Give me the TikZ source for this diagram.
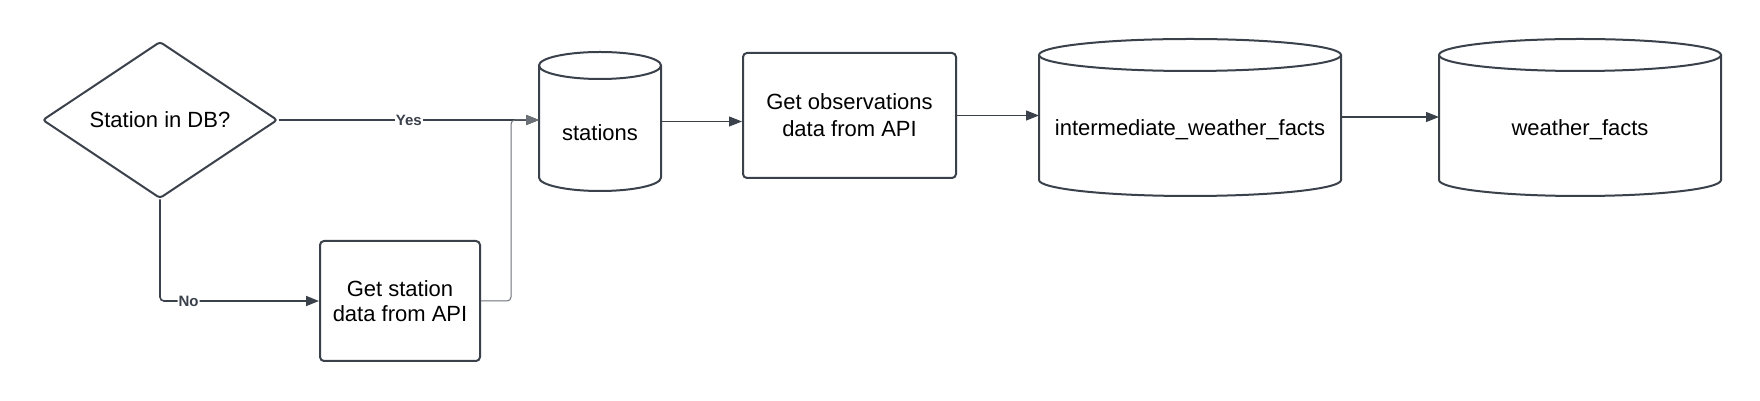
\documentclass[tikz,border=0pt]{standalone}
\usepackage{fontspec}
\setmainfont{Liberation Sans}
\usetikzlibrary{shapes.geometric,arrows.meta,calc}
\definecolor{ln}{HTML}{3A414A}
\newcommand\dbcyl[5]{% cx, top, bottom, rx, ry
  \draw[cylline] (#1,#2-#5) ellipse[x radius=#4, y radius=#5];
  \draw[cylline] (#1-#4,#2-#5) -- (#1-#4,#3+#5)
     arc[start angle=180,end angle=360,x radius=#4,y radius=#5] -- (#1+#4,#2-#5);
}
\begin{document}
\begin{tikzpicture}[x=1pt,y=1pt,
  box/.style={draw=ln, line width=2pt, rounded corners=4pt, fill=white, align=center,
    font=\fontsize{22}{27}\selectfont, inner sep=0},
  dec/.style={diamond, draw=ln, line width=2pt, rounded corners=3pt, inner sep=0,
    font=\fontsize{22}{27}\selectfont, minimum width=235pt, minimum height=155pt},
  cylline/.style={draw=ln, line width=2pt},
  anchorbox/.style={inner sep=0, outer sep=0, draw=none},
  lbl/.style={font=\fontsize{22}{27}\selectfont, inner sep=0},
  conn/.style={draw=ln, line width=1.6pt, -{Triangle[length=13pt,width=10pt]}},
  thinconn/.style={line width=1pt},
  edgelbl/.style={fill=white, font=\bfseries\fontsize{15}{18}\selectfont, inner sep=1pt, text=ln}
]
\fill[white] (0,0) rectangle (1760,401);
\useasboundingbox (0,0) rectangle (1760,401);

% decision
\node[dec] (dc) at (160,281) {Station in DB?};
% get station box
\node[box, minimum width=160pt, minimum height=120pt] (gs) at (400,100) {Get station\\[-2pt]data from API};
% get observations box
\node[box, minimum width=213pt, minimum height=125pt] (ob) at (849.5,285.5) {Get observations\\data from API};

% cylinders
\dbcyl{600}{349}{210}{61}{13.5}
\node[anchorbox, minimum width=122pt, minimum height=139pt] (st) at (600,279.5) {};
\node[lbl] (stl) at (600,268) {stations};

\dbcyl{1190}{362}{205}{151}{16}
\node[anchorbox, minimum width=302pt, minimum height=157pt] (im) at (1190,284) {};
\node[lbl] (iml) at (1190,271) {intermediate\_weather\_facts};

\dbcyl{1580}{362}{205}{141}{16}
\node[anchorbox, minimum width=282pt, minimum height=157pt] (wf) at (1580,284) {};
\node[lbl] (wfl) at (1580,271) {weather\_facts};

% connectors
\coordinate (yesend) at (dc.east -| st.west);
\draw[conn] (dc.east) -- node[edgelbl]{Yes} (yesend);
\draw[conn, rounded corners=4pt] (dc.south) |- node[edgelbl, pos=0.59]{No} (gs.west);
\draw[conn, thinconn, draw=ln!75, rounded corners=4pt] (gs.east) -| ([xshift=-28pt]yesend) -- (yesend);
\draw[conn, thinconn] (st.east) -- (st.east -| ob.west);
\draw[conn, line width=1.3pt] (ob.east) -- (ob.east -| im.west);
\draw[conn, line width=1.3pt] (im.east) -- (wf.west);
\end{tikzpicture}
\end{document}
